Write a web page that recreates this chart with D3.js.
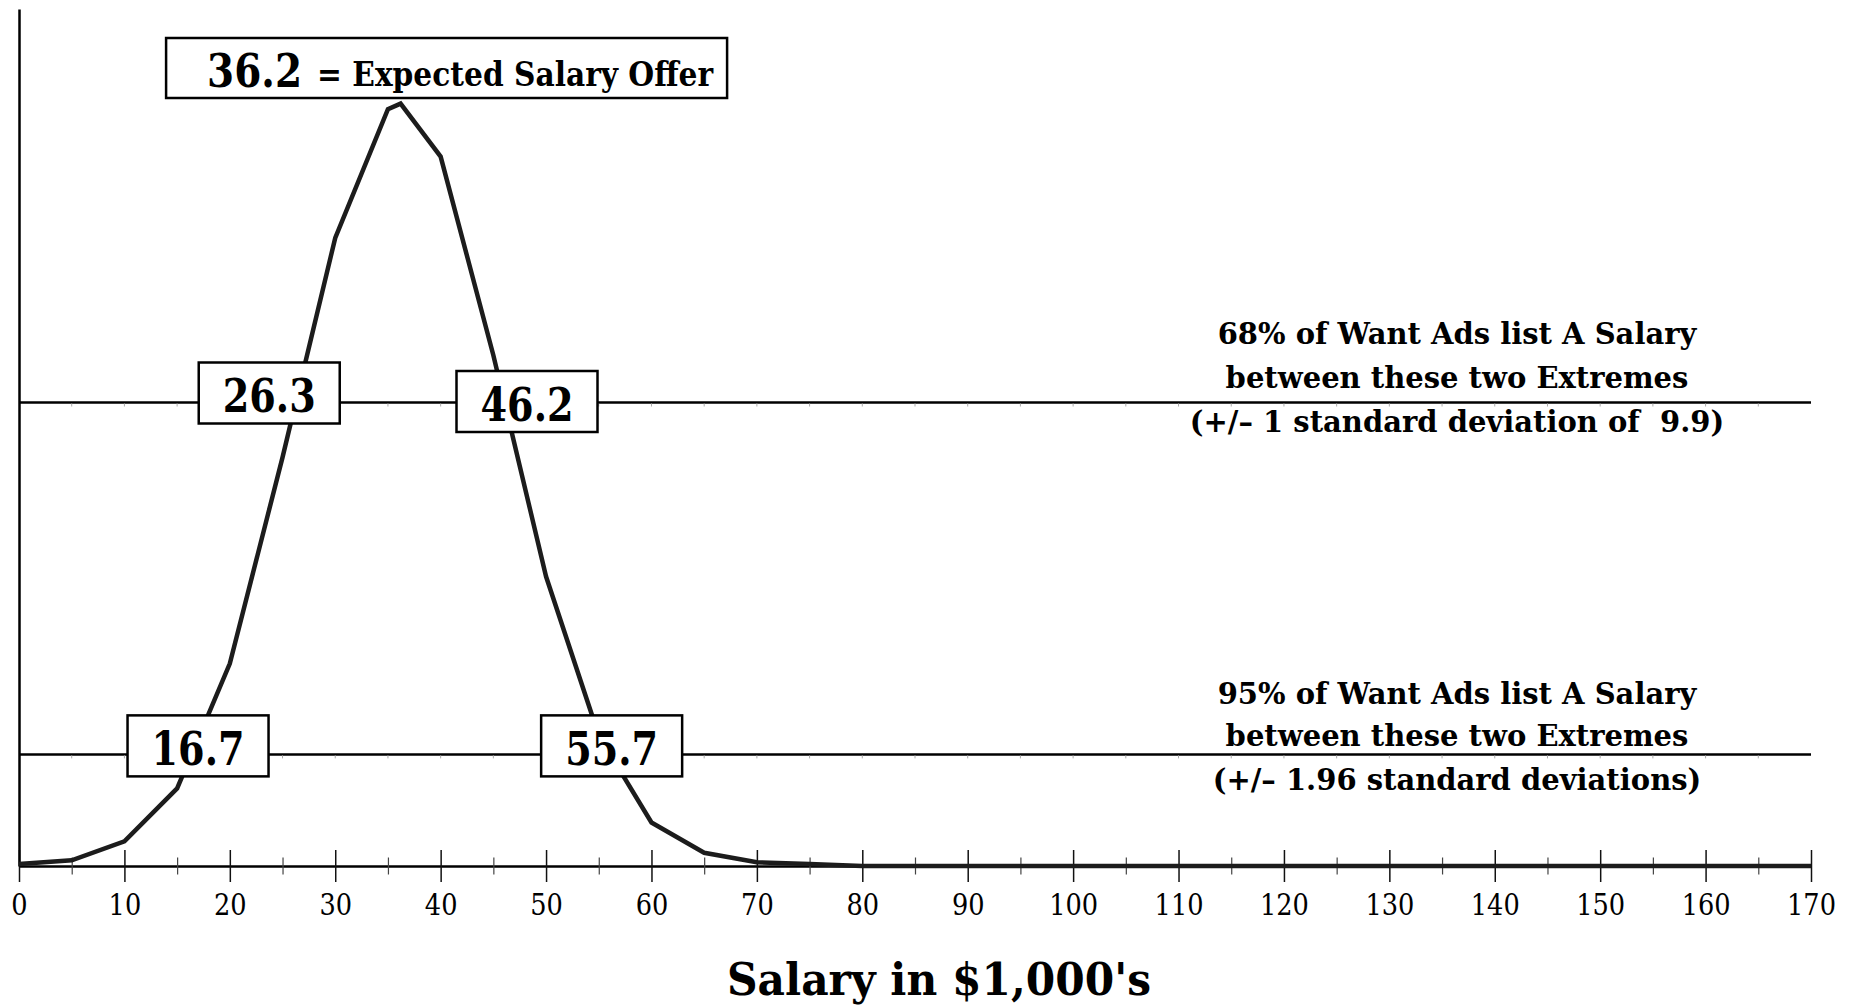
<!DOCTYPE html>
<html>
<head>
<meta charset="utf-8">
<style>
  body { margin: 0; background: #fff; }
  svg { display: block; }
  text { font-family: "DejaVu Serif", serif; fill: #000; }
</style>
</head>
<body>
<div id="chart"></div>
<script src="https://d3js.org/d3.v7.min.js"></script>
<script>
// salary in $1,000's and share of want ads (% per $1,000)
const salaries = [0, 5, 10, 15, 20, 25, 30, 35, 36.2, 40, 45, 50, 55, 60, 65, 70, 75,
  80, 85, 90, 95, 100, 105, 110, 115, 120, 125, 130, 135, 140, 145, 150, 155, 160, 165, 170];
const shares = [0.01, 0.03, 0.13, 0.41, 1.07, 2.16, 3.32, 4.00, 4.03, 3.75, 2.70, 1.53, 0.69, 0.23, 0.07, 0.02, 0.01,
  0, 0, 0, 0, 0, 0, 0, 0, 0, 0, 0, 0, 0, 0, 0, 0, 0, 0, 0];

const xTicks = [0, 10, 20, 30, 40, 50, 60, 70, 80, 90, 100, 110, 120, 130, 140, 150, 160, 170];
const xMinorTicks = [5, 15, 25, 35, 45, 55, 65, 75, 85, 95, 105, 115, 125, 135, 145, 155, 165];

const mean = 36.2;
const bandLevels = [2.45, 0.59];   // height of the two range lines
const bandLow = [26.3, 16.7];
const bandHigh = [46.2, 55.7];
const bandNotes = [
  ["68% of Want Ads list A Salary", "between these two Extremes", "(+/\u2013 1 standard deviation of  9.9)"],
  ["95% of Want Ads list A Salary", "between these two Extremes", "(+/\u2013 1.96 standard deviations)"]
];
const meanCaption = "= Expected Salary Offer";
const xTitle = "Salary in $1,000's";

// ---- layout
const width = 1856, height = 1007;
const x = d3.scaleLinear().domain([0, 170]).range([19, 1811]);
const y = d3.scaleLinear().domain([0, 4.53]).range([866, 9]);

// where each value box sits, relative to its point on the range line
const boxShift = [
  [{dx: -27, dy: -9.5}, {dx: 21, dy: -1}],
  [{dx: 3, dy: -8.5}, {dx: 5.5, dy: -8.5}]
];
const boxW = 141, boxH = 61;
// baselines of the note lines, relative to the range line
const noteShift = [[-59, -15, 29], [-50, -8, 36]];

const svg = d3.select("#chart").append("svg")
  .attr("width", width)
  .attr("height", height);

// x axis, ticks go both ways
const axisG = svg.append("g")
  .attr("transform", `translate(0,${y(0)})`)
  .call(d3.axisBottom(x).tickValues(xTicks).tickSize(16).tickSizeOuter(0).tickFormat(d3.format("d")));
axisG.select(".domain").attr("stroke", "#000").attr("stroke-width", 2.5);
axisG.selectAll(".tick line").attr("y1", -16).attr("y2", 16).attr("stroke", "#111").attr("stroke-width", 1.5);
axisG.selectAll(".tick text")
  .attr("y", 49).attr("dy", 0)
  .attr("font-family", "DejaVu Serif").attr("font-size", 29)
  .attr("textLength", d => String(d).length * 16.3)
  .attr("lengthAdjust", "spacingAndGlyphs")
  .attr("fill", "#000");

const minorG = svg.append("g")
  .attr("transform", `translate(0,${y(0)})`)
  .call(d3.axisBottom(x).tickValues(xMinorTicks).tickSize(8.5).tickSizeOuter(0).tickFormat(""));
minorG.select(".domain").remove();
minorG.selectAll(".tick line").attr("y1", -8.5).attr("y2", 8.5).attr("stroke", "#444").attr("stroke-width", 1.2);

// y axis: bare line
const yAxisG = svg.append("g")
  .attr("transform", `translate(${x(0)},0)`)
  .call(d3.axisLeft(y).tickValues([]).tickSizeOuter(0));
yAxisG.select(".domain").attr("stroke", "#000").attr("stroke-width", 2.5);

// range lines with their little marks
const bands = svg.append("g");
bandLevels.forEach((lv, i) => {
  bands.append("line")
    .attr("x1", x(0)).attr("x2", x(170))
    .attr("y1", y(lv)).attr("y2", y(lv))
    .attr("stroke", "#000").attr("stroke-width", 2.5);
  bands.selectAll(null)
    .data(xMinorTicks.concat(xTicks.slice(1, -1)))
    .enter().append("line")
    .attr("x1", d => x(d)).attr("x2", d => x(d))
    .attr("y1", y(lv) + 1).attr("y2", y(lv) + 4)
    .attr("stroke", "#aaa").attr("stroke-width", 1);
});

// the curve
const pts = salaries.map((s, i) => [s, shares[i]]);
svg.append("path")
  .datum(pts)
  .attr("fill", "none")
  .attr("stroke", "#1c1c1c")
  .attr("stroke-width", 4.5)
  .attr("stroke-linejoin", "miter")
  .attr("d", d3.line().x(d => x(d[0])).y(d => y(d[1])));

// value boxes on the range lines
bandLevels.forEach((lv, i) => {
  [bandLow[i], bandHigh[i]].forEach((v, j) => {
    const cx = x(v) + boxShift[i][j].dx;
    const cy = y(lv) + boxShift[i][j].dy;
    const g = svg.append("g");
    g.append("rect")
      .attr("x", cx - boxW / 2).attr("y", cy - boxH / 2)
      .attr("width", boxW).attr("height", boxH)
      .attr("fill", "#fff").attr("stroke", "#000").attr("stroke-width", 2.5);
    g.append("text")
      .attr("x", cx).attr("y", cy + 19)
      .attr("text-anchor", "middle")
      .attr("font-weight", "bold").attr("font-size", 46)
      .attr("textLength", 93).attr("lengthAdjust", "spacingAndGlyphs")
      .text(v.toFixed(1));
  });
});

// notes on the right
bandLevels.forEach((lv, i) => {
  svg.append("g").selectAll("text")
    .data(bandNotes[i])
    .enter().append("text")
    .attr("x", 1457)
    .attr("y", (d, k) => y(lv) + noteShift[i][k])
    .attr("text-anchor", "middle")
    .attr("font-weight", "bold").attr("font-size", 29)
    .style("white-space", "pre")
    .text(d => d);
});

// expected salary box
const mx = x(mean);
const meanBox = svg.append("g");
meanBox.append("rect")
  .attr("x", mx - 234.5).attr("y", 38)
  .attr("width", 561).attr("height", 60)
  .attr("fill", "#fff").attr("stroke", "#000").attr("stroke-width", 2.5);
meanBox.append("text")
  .attr("x", mx - 193.5).attr("y", 87)
  .attr("font-weight", "bold").attr("font-size", 46)
  .attr("textLength", 95).attr("lengthAdjust", "spacingAndGlyphs")
  .text(mean.toFixed(1));
meanBox.append("text")
  .attr("x", mx - 83.5).attr("y", 86)
  .attr("font-weight", "bold").attr("font-size", 33)
  .attr("textLength", 396).attr("lengthAdjust", "spacingAndGlyphs")
  .text(meanCaption);

// axis title
svg.append("text")
  .attr("x", 939).attr("y", 995)
  .attr("text-anchor", "middle")
  .attr("font-weight", "bold").attr("font-size", 45)
  .attr("textLength", 424).attr("lengthAdjust", "spacingAndGlyphs")
  .text(xTitle);
</script>
</body>
</html>
